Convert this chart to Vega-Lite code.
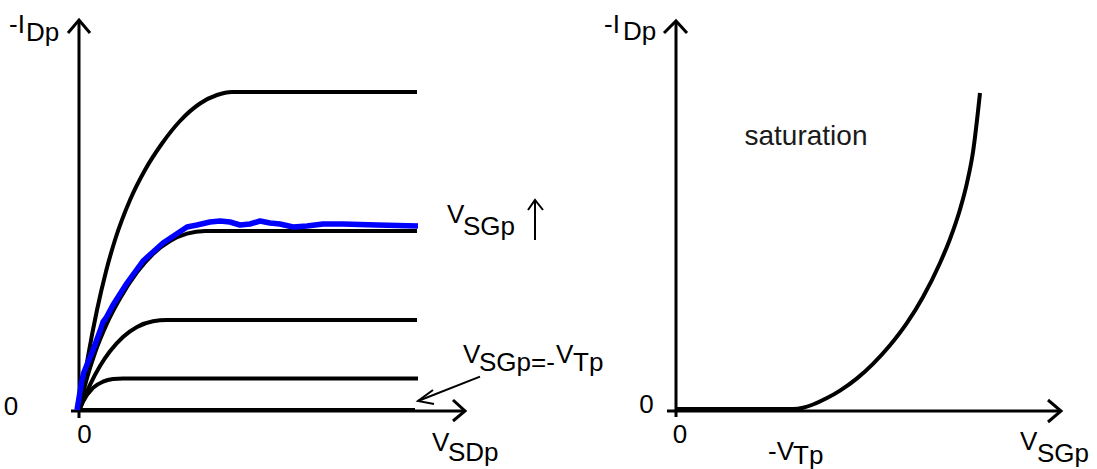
{
  "$schema": "https://vega.github.io/schema/vega-lite/v6.json",
  "padding": 0,
  "spacing": 0,
  "bounds": "flush",
  "background": "white",
  "config": {"view": {"stroke": null}},
  "datasets": {
    "left_axes": [
      {"seg": "xaxis", "x": -0.2, "y": 0}, {"seg": "xaxis", "x": 9.65, "y": 0},
      {"seg": "yaxis", "x": 0, "y": -0.175}, {"seg": "yaxis", "x": 0, "y": 9.775},
      {"seg": "xhead", "x": 9.35, "y": 0.275}, {"seg": "xhead", "x": 9.65, "y": 0}, {"seg": "xhead", "x": 9.35, "y": -0.25},
      {"seg": "yhead", "x": -0.275, "y": 9.45}, {"seg": "yhead", "x": 0, "y": 9.775}, {"seg": "yhead", "x": 0.275, "y": 9.45}
    ],
    "left_arrows": [
      {"seg": "a1", "x": 10.025, "y": 0.86}, {"seg": "a1", "x": 8.475, "y": 0.25},
      {"seg": "a1h", "x": 8.85, "y": 0.525}, {"seg": "a1h", "x": 8.475, "y": 0.25}, {"seg": "a1h", "x": 8.875, "y": 0.175},
      {"seg": "a2", "x": 11.4, "y": 4.275}, {"seg": "a2", "x": 11.4, "y": 5.275},
      {"seg": "a2h", "x": 11.225, "y": 5.025}, {"seg": "a2h", "x": 11.4, "y": 5.275}, {"seg": "a2h", "x": 11.6, "y": 5.025}
    ],
    "left_curves": [
      {"curve": "c1", "x": 0, "y": 0}, {"curve": "c1", "x": 0.225, "y": 1.3625}, {"curve": "c1", "x": 0.45, "y": 2.525},
      {"curve": "c1", "x": 0.675, "y": 3.49}, {"curve": "c1", "x": 0.9, "y": 4.275}, {"curve": "c1", "x": 1.275, "y": 5.275},
      {"curve": "c1", "x": 1.65, "y": 6.025}, {"curve": "c1", "x": 2.075, "y": 6.6875}, {"curve": "c1", "x": 2.525, "y": 7.25},
      {"curve": "c1", "x": 3.025, "y": 7.6875}, {"curve": "c1", "x": 3.45, "y": 7.9}, {"curve": "c1", "x": 3.825, "y": 7.975},
      {"curve": "c1", "x": 8.45, "y": 7.975},
      {"curve": "c2", "x": 0, "y": 0}, {"curve": "c2", "x": 0.15, "y": 0.64}, {"curve": "c2", "x": 0.4, "y": 1.455},
      {"curve": "c2", "x": 0.7, "y": 2.19}, {"curve": "c2", "x": 1.025, "y": 2.8125}, {"curve": "c2", "x": 1.45, "y": 3.465},
      {"curve": "c2", "x": 1.85, "y": 3.925}, {"curve": "c2", "x": 2.275, "y": 4.25}, {"curve": "c2", "x": 2.7, "y": 4.435},
      {"curve": "c2", "x": 3.15, "y": 4.5}, {"curve": "c2", "x": 8.45, "y": 4.5},
      {"curve": "c3", "x": 0, "y": 0}, {"curve": "c3", "x": 0.275, "y": 0.655}, {"curve": "c3", "x": 0.525, "y": 1.125},
      {"curve": "c3", "x": 0.775, "y": 1.4925}, {"curve": "c3", "x": 1.1, "y": 1.85}, {"curve": "c3", "x": 1.45, "y": 2.1},
      {"curve": "c3", "x": 1.85, "y": 2.2425}, {"curve": "c3", "x": 2.2, "y": 2.275}, {"curve": "c3", "x": 8.45, "y": 2.275},
      {"curve": "c4", "x": 0, "y": 0}, {"curve": "c4", "x": 0.1, "y": 0.2325}, {"curve": "c4", "x": 0.35, "y": 0.58},
      {"curve": "c4", "x": 0.6, "y": 0.7325}, {"curve": "c4", "x": 0.85, "y": 0.7975}, {"curve": "c4", "x": 1.1, "y": 0.8125},
      {"curve": "c4", "x": 8.475, "y": 0.8125},
      {"curve": "c5", "x": 0, "y": 0.025}, {"curve": "c5", "x": 8.4, "y": 0.025}
    ],
    "left_blue": [
      {"x": -0.05, "y": 0.025}, {"x": 0.075, "y": 0.775}, {"x": 0.125, "y": 0.975}, {"x": 0.35, "y": 1.525},
      {"x": 0.525, "y": 2.0}, {"x": 0.6, "y": 2.225}, {"x": 0.675, "y": 2.325}, {"x": 0.85, "y": 2.65},
      {"x": 1.2, "y": 3.2}, {"x": 1.6, "y": 3.75}, {"x": 2.1, "y": 4.2}, {"x": 2.4, "y": 4.4},
      {"x": 2.7, "y": 4.6}, {"x": 2.95, "y": 4.65}, {"x": 3.275, "y": 4.725}, {"x": 3.525, "y": 4.75},
      {"x": 3.775, "y": 4.725}, {"x": 4.025, "y": 4.65}, {"x": 4.275, "y": 4.675}, {"x": 4.525, "y": 4.75},
      {"x": 4.775, "y": 4.7}, {"x": 5.025, "y": 4.675}, {"x": 5.35, "y": 4.6}, {"x": 5.7, "y": 4.625},
      {"x": 6.1, "y": 4.675}, {"x": 6.6, "y": 4.675}, {"x": 7.45, "y": 4.65}, {"x": 8.475, "y": 4.625}
    ],
    "left_text": [
      {"label": "-I", "x": -1.75, "y": 9.45}, {"label": "Dp", "x": -1.325, "y": 9.25},
      {"label": "V", "x": 8.825, "y": -1.0}, {"label": "SDp", "x": 9.225, "y": -1.25},
      {"label": "V", "x": 9.2, "y": 4.7}, {"label": "SGp", "x": 9.6, "y": 4.4},
      {"label": "V", "x": 9.6, "y": 1.2}, {"label": "SGp=-", "x": 10.0, "y": 1.0},
      {"label": "V", "x": 11.925, "y": 1.2}, {"label": "Tp", "x": 12.35, "y": 1.0}
    ],
    "left_center": [
      {"label": "0", "x": -1.7, "y": -0.1}, {"label": "0", "x": 0.1375, "y": -0.8}
    ],
    "right_axes": [
      {"seg": "xaxis", "x": -0.225, "y": 0}, {"seg": "xaxis", "x": 9.625, "y": 0},
      {"seg": "yaxis", "x": 0, "y": -0.15}, {"seg": "yaxis", "x": 0, "y": 9.75},
      {"seg": "xhead", "x": 9.3, "y": 0.275}, {"seg": "xhead", "x": 9.625, "y": 0}, {"seg": "xhead", "x": 9.3, "y": -0.275},
      {"seg": "yhead", "x": -0.3, "y": 9.45}, {"seg": "yhead", "x": 0, "y": 9.75}, {"seg": "yhead", "x": 0.275, "y": 9.45}
    ],
    "right_curve": [
      {"x": 0, "y": 0.05}, {"x": 2.925, "y": 0.05}, {"x": 3.175, "y": 0.08125}, {"x": 3.425, "y": 0.1625},
      {"x": 3.775, "y": 0.3235}, {"x": 4.1, "y": 0.50875}, {"x": 4.525, "y": 0.815}, {"x": 4.925, "y": 1.17875},
      {"x": 5.35, "y": 1.6425}, {"x": 5.775, "y": 2.201}, {"x": 6.175, "y": 2.851}, {"x": 6.6, "y": 3.701},
      {"x": 6.85, "y": 4.301}, {"x": 7.1, "y": 5.0385}, {"x": 7.275, "y": 5.7035}, {"x": 7.425, "y": 6.476},
      {"x": 7.6, "y": 7.95}
    ],
    "right_text": [
      {"label": "-I", "x": -1.8, "y": 9.45}, {"label": "Dp", "x": -1.325, "y": 9.275},
      {"label": "-V", "x": 2.3, "y": -1.225}, {"label": "Tp", "x": 2.925, "y": -1.325},
      {"label": "V", "x": 8.6, "y": -0.975}, {"label": "SGp", "x": 9.025, "y": -1.275}
    ],
    "right_center": [
      {"label": "0", "x": -0.7375, "y": -0.05}, {"label": "0", "x": 0.1, "y": -0.8}
    ],
    "right_note": [
      {"label": "saturation", "x": 3.25, "y": 6.65}
    ]
  },
  "hconcat": [
    {
      "width": 548,
      "height": 469,
      "encoding": {
        "x": {"field": "x", "type": "quantitative", "scale": {"domain": [-1.975, 11.725], "nice": false, "zero": false}, "axis": null},
        "y": {"field": "y", "type": "quantitative", "scale": {"domain": [-1.45, 10.275], "nice": false, "zero": false}, "axis": null}
      },
      "layer": [
        {"data": {"name": "left_axes"}, "mark": {"type": "line", "color": "black", "strokeWidth": 3, "strokeCap": "butt"},
         "encoding": {"detail": {"field": "seg"}, "order": {"value": null}}},
        {"data": {"name": "left_arrows"}, "mark": {"type": "line", "color": "black", "strokeWidth": 2, "strokeCap": "butt"},
         "encoding": {"detail": {"field": "seg"}, "order": {"value": null}}},
        {"data": {"name": "left_curves"}, "mark": {"type": "line", "color": "black", "strokeWidth": 4, "interpolate": "monotone", "strokeCap": "butt"},
         "encoding": {"detail": {"field": "curve"}, "order": {"value": null}}},
        {"data": {"name": "left_blue"}, "mark": {"type": "line", "color": "#0000ff", "strokeWidth": 5.5, "strokeJoin": "round", "strokeCap": "butt"},
         "encoding": {"order": {"value": null}}},
        {"data": {"name": "left_text"}, "mark": {"type": "text", "align": "left", "baseline": "alphabetic", "fontSize": 26, "font": "Liberation Sans", "color": "black"},
         "encoding": {"text": {"field": "label"}}},
        {"data": {"name": "left_center"}, "mark": {"type": "text", "align": "center", "baseline": "alphabetic", "fontSize": 26, "font": "Liberation Sans", "color": "black"},
         "encoding": {"text": {"field": "label"}}}
      ]
    },
    {
      "width": 549,
      "height": 469,
      "encoding": {
        "x": {"field": "x", "type": "quantitative", "scale": {"domain": [-3.2, 10.525], "nice": false, "zero": false}, "axis": null},
        "y": {"field": "y", "type": "quantitative", "scale": {"domain": [-1.45, 10.275], "nice": false, "zero": false}, "axis": null}
      },
      "layer": [
        {"data": {"name": "right_axes"}, "mark": {"type": "line", "color": "black", "strokeWidth": 3, "strokeCap": "butt"},
         "encoding": {"detail": {"field": "seg"}, "order": {"value": null}}},
        {"data": {"name": "right_curve"}, "mark": {"type": "line", "color": "black", "strokeWidth": 4, "interpolate": "monotone", "strokeCap": "butt"},
         "encoding": {"order": {"value": null}}},
        {"data": {"name": "right_text"}, "mark": {"type": "text", "align": "left", "baseline": "alphabetic", "fontSize": 26, "font": "Liberation Sans", "color": "black"},
         "encoding": {"text": {"field": "label"}}},
        {"data": {"name": "right_center"}, "mark": {"type": "text", "align": "center", "baseline": "alphabetic", "fontSize": 26, "font": "Liberation Sans", "color": "black"},
         "encoding": {"text": {"field": "label"}}},
        {"data": {"name": "right_note"}, "mark": {"type": "text", "align": "center", "baseline": "alphabetic", "fontSize": 28, "font": "Liberation Sans", "color": "#1a1a1a"},
         "encoding": {"text": {"field": "label"}}}
      ]
    }
  ]
}
